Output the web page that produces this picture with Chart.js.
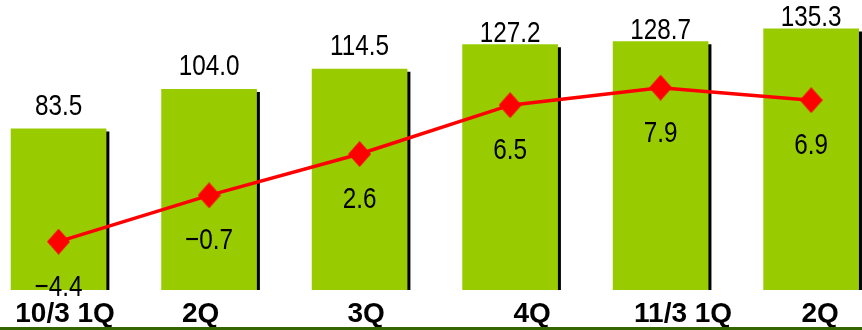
<!DOCTYPE html>
<html>
<head>
<meta charset="utf-8">
<script src="https://cdn.jsdelivr.net/npm/chart.js@4/dist/chart.umd.min.js"></script>
<style>
  html, body { margin: 0; padding: 0; background: #ffffff; }
  canvas { display: block; }
</style>
</head>
<body>
<canvas id="chart" width="862" height="330"></canvas>
<script>
// Quarterly results: net sales (bars) and operating income (line)
const quarters = ['10/3 1Q', '2Q', '3Q', '4Q', '11/3 1Q', '2Q'];
const netSales = [83.5, 104.0, 114.5, 127.2, 128.7, 135.3];
const operatingIncome = [-4.4, -0.7, 2.6, 6.5, 7.9, 6.9];

// Layout / style constants
const X_RANGE = { min: -0.389, max: 5.338 };
const SALES_RANGE = { min: 0, max: 150.3 };
const INCOME_RANGE = { min: -8.26, max: 14.9 };
const TICK_NUDGE_PX = [6.5, -8.5, 6.5, 22, 22.5, 9];
const BAR_GREEN = '#99cc00';
const LINE_RED = '#ff0000';
const BASE_GREEN = '#336600';
const VALUE_FONT = '30px "Liberation Sans", Arial, sans-serif';
const VALUE_SQUEEZE = 0.81;   // narrow face for the value labels

const fmt = v => (v < 0 ? '\u2212' : '') + Math.abs(v).toFixed(1);

function narrowText(ctx, text, x, y) {
  ctx.save();
  ctx.translate(x, y);
  ctx.scale(VALUE_SQUEEZE, 1);
  ctx.fillText(text, 0, 0);
  ctx.restore();
}

// Slightly tall diamond marker
function makeDiamond(w, h, color) {
  const c = document.createElement('canvas');
  c.width = w;
  c.height = h;
  const g = c.getContext('2d');
  g.fillStyle = color;
  g.beginPath();
  g.moveTo(w / 2, 0);
  g.lineTo(w, h / 2);
  g.lineTo(w / 2, h);
  g.lineTo(0, h / 2);
  g.closePath();
  g.fill();
  return c;
}
const diamond = makeDiamond(23, 26, LINE_RED);

// Offset drop shadow under the bars
const barShadow = {
  id: 'barShadow',
  beforeDatasetDraw(chart, args) {
    if (args.meta.type !== 'bar') return;
    const ctx = chart.ctx;
    ctx.save();
    ctx.shadowColor = '#000000';
    ctx.shadowOffsetX = 3;
    ctx.shadowOffsetY = 3;
    ctx.shadowBlur = 0;
  },
  afterDatasetDraw(chart, args) {
    if (args.meta.type !== 'bar') return;
    chart.ctx.restore();
  }
};

// Value labels above bars and below line points
const valueLabels = {
  id: 'valueLabels',
  afterDatasetsDraw(chart) {
    const ctx = chart.ctx;
    ctx.save();
    ctx.font = VALUE_FONT;
    ctx.fillStyle = '#000000';
    ctx.textAlign = 'center';
    ctx.textBaseline = 'alphabetic';
    const bars = chart.getDatasetMeta(0);
    bars.data.forEach((el, i) => {
      let gap = 14;
      if (el.y - gap - 22 < 20) gap = 3;
      narrowText(ctx, fmt(netSales[i]), el.x, el.y - gap);
    });
    const line = chart.getDatasetMeta(1);
    line.data.forEach((el, i) => {
      narrowText(ctx, fmt(operatingIncome[i]), el.x, el.y + 54);
    });
    ctx.restore();
  }
};

// Dark green rule along the bottom edge
const baseRule = {
  id: 'baseRule',
  afterDraw(chart) {
    const ctx = chart.ctx;
    ctx.save();
    ctx.fillStyle = BASE_GREEN;
    ctx.fillRect(0, chart.height - 3, chart.width, 3);
    ctx.restore();
  }
};

new Chart(document.getElementById('chart'), {
  type: 'bar',
  data: {
    datasets: [
      {
        type: 'bar',
        label: 'Net sales',
        data: netSales.map((v, i) => ({ x: i, y: v })),
        backgroundColor: BAR_GREEN,
        borderWidth: 0,
        barThickness: 95,
        yAxisID: 'y',
        order: 2
      },
      {
        type: 'line',
        label: 'Operating income',
        data: operatingIncome.map((v, i) => ({ x: i, y: v })),
        borderColor: LINE_RED,
        backgroundColor: LINE_RED,
        borderWidth: 3.5,
        pointStyle: diamond,
        pointRadius: 12,
        pointBorderWidth: 0,
        tension: 0,
        clip: false,
        yAxisID: 'y1',
        order: 1
      }
    ]
  },
  options: {
    responsive: false,
    animation: false,
    layout: { padding: 0, autoPadding: false },
    plugins: {
      legend: { display: false },
      tooltip: { enabled: false }
    },
    scales: {
      x: {
        type: 'linear',
        offset: false,
        min: X_RANGE.min,
        max: X_RANGE.max,
        grid: { display: false, drawTicks: false, offset: false },
        border: { display: false },
        afterBuildTicks(scale) {
          const unitPerPx = (X_RANGE.max - X_RANGE.min) / 862;
          scale.ticks = quarters.map((_, i) => ({ value: i + TICK_NUDGE_PX[i] * unitPerPx }));
        },
        afterFit(scale) {
          scale.height = 40;
          scale.paddingLeft = 0;
          scale.paddingRight = 0;
        },
        ticks: {
          autoSkip: false,
          maxRotation: 0,
          padding: 7,
          color: '#000000',
          font: { family: '"Liberation Sans", Arial, sans-serif', size: 28, weight: 'bold', lineHeight: 1.2 },
          callback: (value, index) => quarters[index]
        }
      },
      y: {
        display: false,
        min: SALES_RANGE.min,
        max: SALES_RANGE.max
      },
      y1: {
        display: false,
        min: INCOME_RANGE.min,
        max: INCOME_RANGE.max
      }
    }
  },
  plugins: [barShadow, valueLabels, baseRule]
});
</script>
</body>
</html>
